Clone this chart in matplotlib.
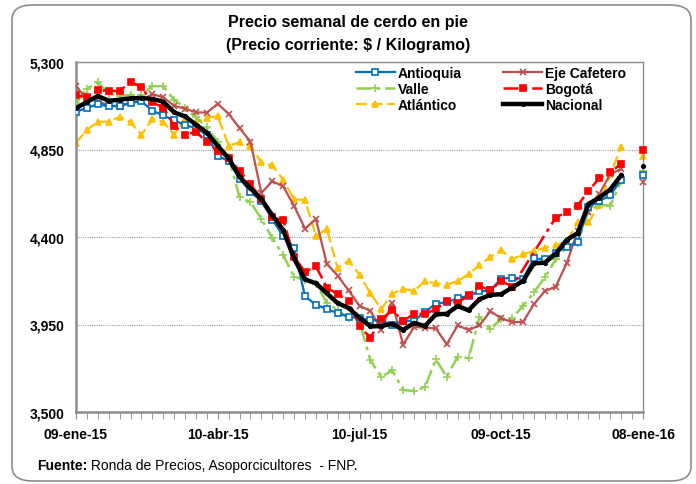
import numpy as np
import matplotlib.pyplot as plt
from matplotlib.patches import FancyBboxPatch

plt.rcParams['font.family'] = ['Liberation Sans', 'DejaVu Sans']

# Semanas: 09-ene-15 (0) ... 08-ene-16 (52); la semana 51 no tiene dato
semanas = np.arange(53)
etiquetas_x = ['09-ene-15', '10-abr-15', '10-jul-15', '09-oct-15', '08-ene-16']
pos_etiquetas = [0, 13, 26, 39, 52]

antioquia = [5043, 5065, 5082, 5072, 5076, 5090, 5098, 5050, 5025, 5000,
             4975, 4960, 4925, 4818, 4790, 4700, 4632, 4585, 4490, 4404,
             4345, 4095, 4052, 4030, 4008, 3990, 3982, 3975, 3968, 3950,
             3968, 3970, 4013, 4058, 4064, 4085, 4098, 4120, 4125, 4186,
             4190, 4186, 4290, 4285, 4320, 4350, 4373, 4556, 4585, 4615,
             4695, None, 4717]
eje_cafetero = [5175, 5110, 5100, 5075, 5070, 5090, 5100, 5135, 5118, 5075,
                5060, 5041, 5040, 5085, 5033, 4960, 4890, 4626, 4687, 4660,
                4560, 4443, 4493, 4262, 4201, 4125, 4046, 4020, 3924, 4063,
                3846, 3937, 3934, 3930, 3848, 3945, 3922, 3945, 4018, 3982,
                3962, 3963, 4055, 4122, 4145, 4265, 4430, 4530, 4622, 4724,
                4750, None, 4681]
valle = [5087, 5163, 5196, 5136, 5125, 5130, 5130, 5176, 5175, 5105,
         5065, 5016, 4964, 4890, 4810, 4604, 4580, 4493, 4395, 4307,
         4195, 4180, 4160, 4063, 4024, 3982, 3965, 3766, 3680, 3714,
         3613, 3608, 3628, 3771, 3680, 3785, 3777, 3987, 3926, 3980,
         3982, 4046, 4115, 4192, 4286, 4350, 4370, 4535, 4565, 4562,
         4688, None, 4741]
bogota = [5128, 5120, 5155, 5152, 5150, 5199, 5170, 5093, 5065, 4973,
          4925, 4942, 4887, 4844, 4805, 4741, 4673, 4595, 4501, 4486,
          4299, 4220, 4250, 4140, 4106, 4072, 3940, 3882, 3977, 4023,
          3968, 4005, 4005, 4028, 4071, 4062, 4100, 4147, 4126, 4174,
          4145, None, None, None, 4500, 4528, 4561, 4638, 4702, 4735,
          4775, None, 4849]
atlantico = [4885, 4950, 4993, 4993, 5018, 4990, 4925, 5007, 4993, 4925,
             5007, 4990, 5014, 5021, 4870, 4887, 4870, 4784, 4768, 4695,
             4594, 4590, 4405, 4441, 4239, 4278, 4206, 4110, 4029, 4109,
             4133, 4123, 4172, 4162, 4155, 4174, 4208, 4256, 4297, 4333,
             4285, 4311, 4328, 4345, 4357, 4376, 4478, 4476, 4565, 4724,
             4861, None, 4815]
nacional = [5062, 5095, 5125, 5101, 5106, 5113, 5115, 5110, 5096, 5041,
            5020, 4978, 4937, 4868, 4805, 4710, 4650, 4595, 4512, 4435,
            4290, 4182, 4162, 4110, 4060, 4035, 3985, 3940, 3942, 3954,
            3922, 3958, 3942, 4002, 4005, 4045, 4023, 4080, 4102, 4106,
            4140, 4174, 4265, 4268, 4314, 4385, 4420, 4570, 4603, 4645,
            4717, None, 4764]

series = [
    ('Antioquia', antioquia, '#0070C0', '-', 's', 'white', 5, 1.6),
    ('Valle', valle, '#92D050', (0, (6, 2, 1.5, 2)), '+', '#92D050', 6, 1.8),
    ('Atlántico', atlantico, '#FFC000', (0, (5, 2)), '^', '#FFC000', 5, 1.6),
    ('Eje Cafetero', eje_cafetero, '#C0504D', '-', 'x', '#C0504D', 5, 1.6),
    ('Bogotá', bogota, '#FF0000', (0, (6, 2, 1.5, 2)), 's', '#FF0000', 4.5, 1.8),
    ('Nacional', nacional, 'black', '-', 'o', 'black', 2.5, 3.2),
]
orden_z = {'Nacional': 6, 'Antioquia': 4, 'Bogotá': 5, 'Valle': 3, 'Atlántico': 2, 'Eje Cafetero': 3}

fig = plt.figure(figsize=(6.96, 4.85), dpi=100)
fig.patches.append(FancyBboxPatch((12 / 696, 3 / 485), 679 / 696, 476 / 485,
                                  boxstyle='round,pad=0,rounding_size=0.03',
                                  transform=fig.transFigure, facecolor='white',
                                  edgecolor='#8C8C8C', linewidth=1.2, zorder=-1))
ax = fig.add_axes([76 / 696, 1 - 413 / 485, 567 / 696, 350 / 485])
ax.set_facecolor('none')

handles = []
for nombre, valores, color, estilo, marca, relleno, tam, grosor in series:
    v = np.array([np.nan if x is None else x for x in valores], dtype=float)
    tramo = np.isfinite(v[:51])
    x = semanas[:51][tramo]
    y = v[:51][tramo]
    linea, = ax.plot(x, y, color=color, linestyle=estilo, linewidth=grosor,
                     marker=marca, markersize=tam, markerfacecolor=relleno,
                     markeredgecolor=color, markeredgewidth=1.2, label=nombre,
                     zorder=orden_z[nombre])
    ax.plot(semanas[52], v[52], color=color, marker=marca, markersize=tam,
            markerfacecolor=relleno, markeredgecolor=color, markeredgewidth=1.2,
            linestyle='none', zorder=orden_z[nombre], clip_on=False)
    handles.append(linea)

ax.set_xlim(0, 52)
ax.set_ylim(3500, 5300)
ax.set_yticks([3500, 3950, 4400, 4850, 5300])
ax.set_yticklabels(['3,500', '3,950', '4,400', '4,850', '5,300'], fontweight='bold', fontsize=10)
ax.set_xticks(pos_etiquetas)
ax.set_xticklabels(etiquetas_x, fontweight='bold', fontsize=10)
ax.set_xticks(semanas, minor=True)
ax.tick_params(axis='x', which='both', direction='out', length=5, color='#8C8C8C', pad=6)
ax.tick_params(axis='y', length=0, pad=8)
ax.grid(axis='y', linestyle=(0, (1, 1)), color='#A0A0A0', linewidth=0.8)
for lado in ['top', 'right']:
    ax.spines[lado].set_color('#8C8C8C')
    ax.spines[lado].set_linewidth(1.0)
for lado in ['left', 'bottom']:
    ax.spines[lado].set_color('#8C8C8C')
    ax.spines[lado].set_linewidth(1.8)

fig.text(0.5, 1 - 34 / 485, 'Precio semanal de cerdo en pie\n(Precio corriente: $ / Kilogramo)',
         ha='center', va='center', fontweight='bold', fontsize=11.5, linespacing=1.6)

fig.legend(handles=handles, loc='upper left', bbox_to_anchor=(356 / 696, 1 - 67 / 485),
           ncol=2, frameon=False, prop={'weight': 'bold', 'size': 10},
           handlelength=2.8, handletextpad=0.2, columnspacing=3.0,
           labelspacing=0.15, borderpad=0, borderaxespad=0)

t1 = fig.text(37 / 696, 1 - 466 / 485, 'Fuente:', fontweight='bold', fontsize=10, va='center')
ax.annotate(' Ronda de Precios, Asoporcicultores  - FNP.', xy=(1, 0.5), xycoords=t1,
            va='center', ha='left', fontsize=10, annotation_clip=False)

plt.savefig('out.png', dpi=100)
